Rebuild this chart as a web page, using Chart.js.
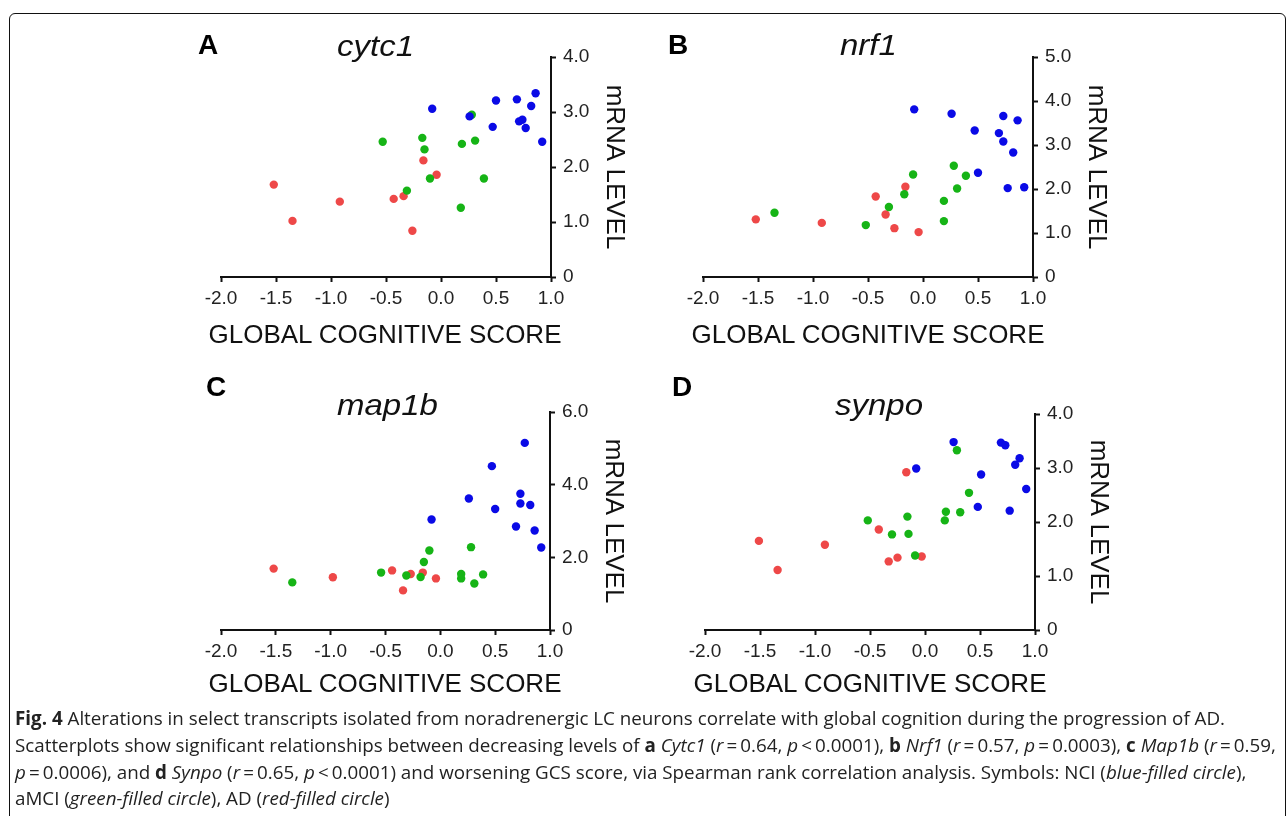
<!DOCTYPE html>
<html><head><meta charset="utf-8">
<script src="https://cdn.jsdelivr.net/npm/chart.js@4.4.1/dist/chart.umd.min.js"></script>
<style>
html,body{margin:0;padding:0;background:#fff;width:1288px;height:816px;overflow:hidden;position:relative;}
.frame{position:absolute;left:9px;top:13px;width:1277px;height:900px;border:1.5px solid #111;border-radius:6px;box-sizing:border-box;}
canvas{position:absolute;}
.letter{position:absolute;font:bold 28px "Liberation Sans",Arial,sans-serif;line-height:1;color:#000;white-space:nowrap;}
.gene{position:absolute;font:italic 30px "Liberation Sans",Arial,sans-serif;line-height:1;color:#111;transform-origin:left top;transform:scaleX(1.1);white-space:nowrap;}
.xt{position:absolute;width:420px;text-align:center;font:26px "Liberation Sans",Arial,sans-serif;line-height:1;color:#111;white-space:nowrap;}
.caption{position:absolute;left:15px;top:705px;font:18.8px "Open Sans",sans-serif;line-height:26.8px;color:#222;white-space:nowrap;}
</style></head>
<body>
<div class="frame"></div>
<canvas id="cA"></canvas><canvas id="cB"></canvas><canvas id="cC"></canvas><canvas id="cD"></canvas>
<div class="letter" style="left:198px;top:31px">A</div>
<div class="letter" style="left:668px;top:31px">B</div>
<div class="letter" style="left:206px;top:373px">C</div>
<div class="letter" style="left:672px;top:373px">D</div>
<div class="gene" style="left:337px;top:31px">cytc1</div>
<div class="gene" style="left:840px;top:30px">nrf1</div>
<div class="gene" style="left:337px;top:390px">map1b</div>
<div class="gene" style="left:835px;top:390px">synpo</div>
<div class="xt" style="left:175px;top:321px">GLOBAL COGNITIVE SCORE</div>
<div class="xt" style="left:658px;top:321px">GLOBAL COGNITIVE SCORE</div>
<div class="xt" style="left:175px;top:670px">GLOBAL COGNITIVE SCORE</div>
<div class="xt" style="left:660px;top:670px">GLOBAL COGNITIVE SCORE</div>
<div class="caption"><b>Fig. 4</b> Alterations in select transcripts isolated from noradrenergic LC neurons correlate with global cognition during the progression of AD.<br>Scatterplots show significant relationships between decreasing levels of <b>a</b> <i>Cytc1</i> (<i>r</i>&thinsp;=&thinsp;0.64, <i>p</i>&thinsp;&lt;&thinsp;0.0001), <b>b</b> <i>Nrf1</i> (<i>r</i>&thinsp;=&thinsp;0.57, <i>p</i>&thinsp;=&thinsp;0.0003), <b>c</b> <i>Map1b</i> (<i>r</i>&thinsp;=&thinsp;0.59,<br><i>p</i>&thinsp;=&thinsp;0.0006), and <b>d</b> <i>Synpo</i> (<i>r</i>&thinsp;=&thinsp;0.65, <i>p</i>&thinsp;&lt;&thinsp;0.0001) and worsening GCS score, via Spearman rank correlation analysis. Symbols: NCI (<i>blue-filled circle</i>),<br>aMCI (<i>green-filled circle</i>), AD (<i>red-filled circle</i>)</div>
<script>
// ---- tick labels ----
const xTickValues = [-2.0, -1.5, -1.0, -0.5, 0.0, 0.5, 1.0];
const xTickLabels = ['-2.0', '-1.5', '-1.0', '-0.5', '0.0', '0.5', '1.0'];
const yTicksA = [0, 1, 2, 3, 4];
const yLabelsA = ['0', '1.0', '2.0', '3.0', '4.0'];
const yTicksB = [0, 1, 2, 3, 4, 5];
const yLabelsB = ['0', '1.0', '2.0', '3.0', '4.0', '5.0'];
const yTicksC = [0, 2, 4, 6];
const yLabelsC = ['0', '2.0', '4.0', '6.0'];
const yTicksD = [0, 1, 2, 3, 4];
const yLabelsD = ['0', '1.0', '2.0', '3.0', '4.0'];
const seriesNames = ['NCI', 'aMCI', 'AD'];

// ---- A: cytc1 ----
const cytc1_NCI_x = [-0.08, 0.26, 0.50, 0.47, 0.69, 0.86, 0.82, 0.71, 0.74, 0.77, 0.92];
const cytc1_NCI_y = [3.06, 2.92, 3.21, 2.73, 3.23, 3.34, 3.11, 2.83, 2.86, 2.71, 2.46];
const cytc1_aMCI_x = [-0.53, -0.17, -0.15, 0.19, 0.28, 0.31, -0.10, 0.39, -0.31, 0.18];
const cytc1_aMCI_y = [2.46, 2.53, 2.32, 2.42, 2.95, 2.48, 1.79, 1.79, 1.57, 1.26];
const cytc1_AD_x = [-1.52, -1.35, -0.92, -0.43, -0.34, -0.16, -0.04, -0.26];
const cytc1_AD_y = [1.68, 1.02, 1.37, 1.42, 1.47, 2.12, 1.86, 0.84];

// ---- B: nrf1 ----
const nrf1_NCI_x = [-0.08, 0.26, 0.47, 0.73, 0.86, 0.69, 0.73, 0.82, 0.50, 0.77, 0.92];
const nrf1_NCI_y = [3.81, 3.71, 3.33, 3.66, 3.56, 3.27, 3.08, 2.83, 2.37, 2.02, 2.04];
const nrf1_aMCI_x = [-1.35, -0.52, -0.31, -0.17, -0.09, 0.19, 0.19, 0.28, 0.39, 0.31];
const nrf1_aMCI_y = [1.46, 1.18, 1.59, 1.88, 2.33, 1.73, 1.27, 2.53, 2.30, 2.01];
const nrf1_AD_x = [-1.52, -0.92, -0.43, -0.34, -0.16, -0.26, -0.04];
const nrf1_AD_y = [1.31, 1.23, 1.83, 1.42, 2.05, 1.11, 1.02];

// ---- C: map1b ----
const map1b_NCI_x = [-0.08, 0.26, 0.47, 0.77, 0.50, 0.73, 0.73, 0.82, 0.69, 0.86, 0.92];
const map1b_NCI_y = [3.04, 3.62, 4.51, 5.15, 3.33, 3.75, 3.48, 3.44, 2.85, 2.74, 2.27];
const map1b_aMCI_x = [-1.35, -0.54, -0.31, -0.18, -0.15, -0.10, 0.19, 0.19, 0.28, 0.31, 0.39];
const map1b_aMCI_y = [1.31, 1.58, 1.50, 1.46, 1.87, 2.19, 1.42, 1.54, 2.28, 1.28, 1.53];
const map1b_AD_x = [-1.52, -0.98, -0.44, -0.34, -0.27, -0.16, -0.04];
const map1b_AD_y = [1.69, 1.45, 1.64, 1.09, 1.54, 1.58, 1.42];

// ---- D: synpo ----
const synpo_NCI_x = [0.26, -0.08, 0.51, 0.48, 0.69, 0.73, 0.86, 0.82, 0.92, 0.77];
const synpo_NCI_y = [3.48, 2.99, 2.88, 2.28, 3.47, 3.42, 3.18, 3.06, 2.61, 2.21];
const synpo_aMCI_x = [0.29, 0.40, 0.19, 0.18, 0.32, -0.52, -0.30, -0.16, -0.15, -0.09];
const synpo_aMCI_y = [3.33, 2.54, 2.19, 2.03, 2.18, 2.03, 1.77, 2.10, 1.78, 1.38];
const synpo_AD_x = [-1.51, -1.34, -0.91, -0.42, -0.33, -0.25, -0.17, -0.03];
const synpo_AD_y = [1.65, 1.11, 1.58, 1.86, 1.27, 1.34, 2.92, 1.36];

// ---- styling ----
const groupColors = ['#0a0ae6', '#16b416', '#ee4848'];
const FONT = '"Liberation Sans", Arial, sans-serif';
Chart.defaults.font.family = FONT;
const PAD_L = 31, PAD_T = 37, Y_AXIS_W = 99, X_AXIS_H = 80;

function zip(xs, ys) { return xs.map((x, i) => ({x: x, y: ys[i]})); }

function makePanel(id, area, groups, yTicks, yLabels) {
  const cv = document.getElementById(id);
  const w = PAD_L + (area.right - area.left) + Y_AXIS_W;
  const h = PAD_T + (area.bottom - area.top) + X_AXIS_H;
  cv.width = w; cv.height = h;
  cv.style.left = (area.left - PAD_L) + 'px';
  cv.style.top = (area.top - PAD_T) + 'px';
  cv.style.width = w + 'px'; cv.style.height = h + 'px';
  const datasets = groups.map((g, i) => ({
    label: seriesNames[i],
    data: zip(g[0], g[1]),
    backgroundColor: groupColors[i],
    borderWidth: 0,
    pointRadius: 4.2,
    pointHoverRadius: 4.2,
    pointBorderWidth: 0
  }));
  const axisCommon = {
    grid: {display: true, drawOnChartArea: false, drawTicks: true, tickLength: 5, tickWidth: 2, tickColor: '#111'},
    border: {display: true, color: '#111', width: 2}
  };
  new Chart(cv, {
    type: 'scatter',
    data: {datasets: datasets},
    options: {
      responsive: false, animation: false, devicePixelRatio: 1,
      layout: {padding: {left: PAD_L, top: PAD_T, right: 0, bottom: 0}},
      plugins: {legend: {display: false}, tooltip: {enabled: false}},
      scales: {
        x: Object.assign({}, axisCommon, {
          type: 'linear', position: 'bottom',
          min: xTickValues[0], max: xTickValues[xTickValues.length - 1],
          afterBuildTicks: s => { s.ticks = xTickValues.map(v => ({value: v})); },
          afterFit: s => { s.height = X_AXIS_H; },
          ticks: {font: {size: 19}, color: '#222', padding: 5, maxRotation: 0, autoSkip: false,
                  callback: (v, i) => xTickLabels[i]}
        }),
        y: Object.assign({}, axisCommon, {
          type: 'linear', position: 'right',
          min: yTicks[0], max: yTicks[yTicks.length - 1],
          afterBuildTicks: s => { s.ticks = yTicks.map(v => ({value: v})); },
          afterFit: s => { s.width = Y_AXIS_W; },
          ticks: {font: {size: 19}, color: '#222', padding: 7, autoSkip: false,
                  callback: (v, i) => yLabels[i]},
          title: {display: true, text: 'mRNA LEVEL', color: '#111',
                  font: {size: 26}, padding: {top: 20, bottom: 0}}
        })
      }
    }
  });
}

makePanel('cA', {left: 221, right: 551, top: 57, bottom: 277},
  [[cytc1_NCI_x, cytc1_NCI_y], [cytc1_aMCI_x, cytc1_aMCI_y], [cytc1_AD_x, cytc1_AD_y]], yTicksA, yLabelsA);
makePanel('cB', {left: 703, right: 1033, top: 57, bottom: 277},
  [[nrf1_NCI_x, nrf1_NCI_y], [nrf1_aMCI_x, nrf1_aMCI_y], [nrf1_AD_x, nrf1_AD_y]], yTicksB, yLabelsB);
makePanel('cC', {left: 221, right: 550, top: 412, bottom: 630},
  [[map1b_NCI_x, map1b_NCI_y], [map1b_aMCI_x, map1b_aMCI_y], [map1b_AD_x, map1b_AD_y]], yTicksC, yLabelsC);
makePanel('cD', {left: 705, right: 1035, top: 414, bottom: 630},
  [[synpo_NCI_x, synpo_NCI_y], [synpo_aMCI_x, synpo_aMCI_y], [synpo_AD_x, synpo_AD_y]], yTicksD, yLabelsD);
</script>
</body></html>
